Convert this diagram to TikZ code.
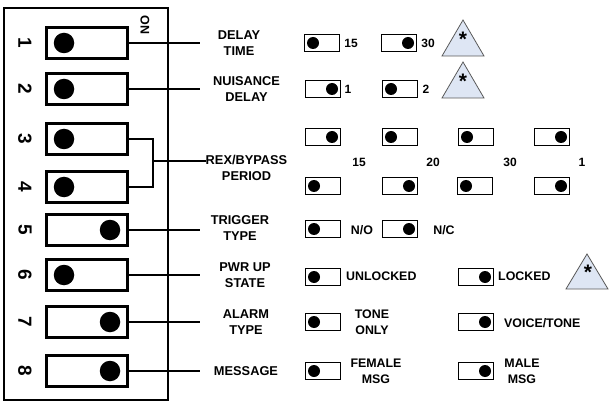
\documentclass[tikz,border=0pt]{standalone}
\usepackage{fontspec}
\setmainfont{Liberation Sans}
\usetikzlibrary{positioning}
\definecolor{notefill}{RGB}{222,230,244}
\tikzset{
    dipsw/.style = {rectangle, line width=2.4pt, draw=black, minimum width=81pt, minimum height=31pt, inner sep=0pt},
    jumper/.style = {rectangle, line width=1.5pt, draw=black, minimum width=35pt, minimum height=17pt, inner sep=0pt},
    bigdot/.style = {circle, fill=black, minimum size=20.5pt, inner sep=0pt},
    smalldot/.style = {circle, fill=black, minimum size=12pt, inner sep=0pt},
    swnum/.style = {rotate=-90, inner sep=0pt, font=\fontsize{19}{19}\selectfont\bfseries},
    funclabel/.style = {align=center, inner sep=0pt, font=\fontsize{12.8}{16}\selectfont\bfseries},
    optlabel/.style = {align=center, inner sep=0pt, font=\fontsize{12.4}{16}\selectfont\bfseries},
    numlabel/.style = {inner sep=0pt, font=\fontsize{12}{12}\selectfont\bfseries},
    wire/.style = {line width=1.2pt},
    note/.style = {draw=gray!70!black, line width=0.8pt, fill=notefill},
    star/.style = {anchor=base, inner sep=0pt, font=\fontsize{21}{21}\selectfont\bfseries}
}
\begin{document}
\begin{tikzpicture}[x=1pt,y=-1pt]
\useasboundingbox (0,0) rectangle (609,403);
%
% dip switch block
\draw[line width=1.8pt] (4,8) rectangle (168,400);
\node[rotate=-90, inner sep=0pt, font=\fontsize{12.5}{12.5}\selectfont\bfseries] (on) at (145,25) {ON};
%
\node[dipsw] (sw1) at (87,43) {};
\node[dipsw] (sw2) at (87,89) {};
\node[dipsw] (sw3) at (87,139) {};
\node[dipsw] (sw4) at (87,187) {};
\node[dipsw] (sw5) at (87,230) {};
\node[dipsw] (sw6) at (87,275) {};
\node[dipsw] (sw7) at (87,322) {};
\node[dipsw] (sw8) at (87,371) {};
%
\node[bigdot] at (64,43) {};
\node[bigdot] at (64,89) {};
\node[bigdot] at (64,139) {};
\node[bigdot] at (64,187) {};
\node[bigdot] at (110,230) {};
\node[bigdot] at (64,275) {};
\node[bigdot] at (110,322) {};
\node[bigdot] at (110,371) {};
%
\node[swnum] (n1) at (25,43) {1};
\node[swnum] (n2) at (25,89) {2};
\node[swnum] (n3) at (25,139) {3};
\node[swnum] (n4) at (25,187) {4};
\node[swnum] (n5) at (25,230) {5};
\node[swnum] (n6) at (25,275) {6};
\node[swnum] (n7) at (25,322) {7};
\node[swnum] (n8) at (25,371) {8};
%
% function labels
\node[funclabel] (delay) at (239,43) {DELAY\\TIME};
\node[funclabel] (nuis) at (246.5,89) {NUISANCE\\DELAY};
\node[funclabel] (rex) at (246.5,168) {REX/BYPASS\\PERIOD};
\node[funclabel] (trig) at (240,228) {TRIGGER\\TYPE};
\node[funclabel] (pwr) at (245,275) {PWR UP\\STATE};
\node[funclabel] (alarm) at (246,322) {ALARM\\TYPE};
\node[funclabel] (msg) at (246,371) {MESSAGE};
%
\coordinate (e1) at (200,43);
\coordinate (e2) at (200,89);
\coordinate (brk) at (153,161);
\coordinate (e5) at (200,230);
\coordinate (e6) at (200,275);
\coordinate (e7) at (200,322);
\coordinate (e8) at (200,371);
%
\draw[wire] (sw1.east) -- (e1);
\draw[wire] (sw2.east) -- (e2);
\draw[wire] (sw3.east) -| (brk) |- (sw4.east);
\draw[wire] (brk) -- (rex.west |- brk);
\draw[wire] (sw5.east) -- (e5);
\draw[wire] (sw6.east) -- (e6);
\draw[wire] (sw7.east) -- (e7);
\draw[wire] (sw8.east) -- (e8);
%
% delay time
\node[jumper] (j11) at (322,43) {};
\node[smalldot] at (313,43) {};
\node[numlabel] at (351,43) {15};
\node[jumper] (j12) at (399,43) {};
\node[smalldot] at (408,43) {};
\node[numlabel] at (428,43) {30};
\draw[note] (442,56) -- (463,20) -- (484,56) -- cycle;
\node[star] at (463,47) {*};
%
% nuisance delay
\node[jumper] (j21) at (323,89) {};
\node[smalldot] at (332,89) {};
\node[numlabel] at (348,89) {1};
\node[jumper] (j22) at (400,89) {};
\node[smalldot] at (391,89) {};
\node[numlabel] at (426,89) {2};
\draw[note] (442,98) -- (463,62) -- (484,98) -- cycle;
\node[star] at (463,89) {*};
%
% rex/bypass period
\node[jumper] (j31) at (323,137) {};
\node[smalldot] at (332,137) {};
\node[jumper] (j32) at (400,137) {};
\node[smalldot] at (391,137) {};
\node[jumper] (j33) at (476,137) {};
\node[smalldot] at (467,137) {};
\node[jumper] (j34) at (552,137) {};
\node[smalldot] at (561,137) {};
\node[numlabel] at (359,162) {15};
\node[numlabel] at (433,162) {20};
\node[numlabel] at (510,162) {30};
\node[numlabel] at (582,162) {1};
\node[jumper] (j41) at (323,186) {};
\node[smalldot] at (314,186) {};
\node[jumper] (j42) at (400,186) {};
\node[smalldot] at (409,186) {};
\node[jumper] (j43) at (475,186) {};
\node[smalldot] at (466,186) {};
\node[jumper] (j44) at (552,186) {};
\node[smalldot] at (561,186) {};
%
% trigger type
\node[jumper] (j51) at (323,229) {};
\node[smalldot] at (314,229) {};
\node[optlabel] at (362,230) {N/O};
\node[jumper] (j52) at (400,229) {};
\node[smalldot] at (409,229) {};
\node[optlabel] at (444,230) {N/C};
%
% power up state
\node[jumper] (j61) at (323,277) {};
\node[smalldot] at (314,277) {};
\node[optlabel, anchor=west] at (346,276) {UNLOCKED};
\node[jumper] (j62) at (476,277) {};
\node[smalldot] at (485,277) {};
\node[optlabel, anchor=west] at (498,276) {LOCKED};
\draw[note] (566,289) -- (587,254) -- (608,289) -- cycle;
\node[star] at (588,279) {*};
%
% alarm type
\node[jumper] (j71) at (323,322) {};
\node[smalldot] at (314,322) {};
\node[optlabel] at (372,322) {TONE\\ONLY};
\node[jumper] (j72) at (476,322) {};
\node[smalldot] at (485,322) {};
\node[optlabel, anchor=west] at (504,323) {VOICE/TONE};
%
% message
\node[jumper] (j81) at (323,371) {};
\node[smalldot] at (314,371) {};
\node[optlabel] at (376,371) {FEMALE\\MSG};
\node[jumper] (j82) at (476,371) {};
\node[smalldot] at (485,371) {};
\node[optlabel] at (522,371) {MALE\\MSG};

\end{tikzpicture}
\end{document}
